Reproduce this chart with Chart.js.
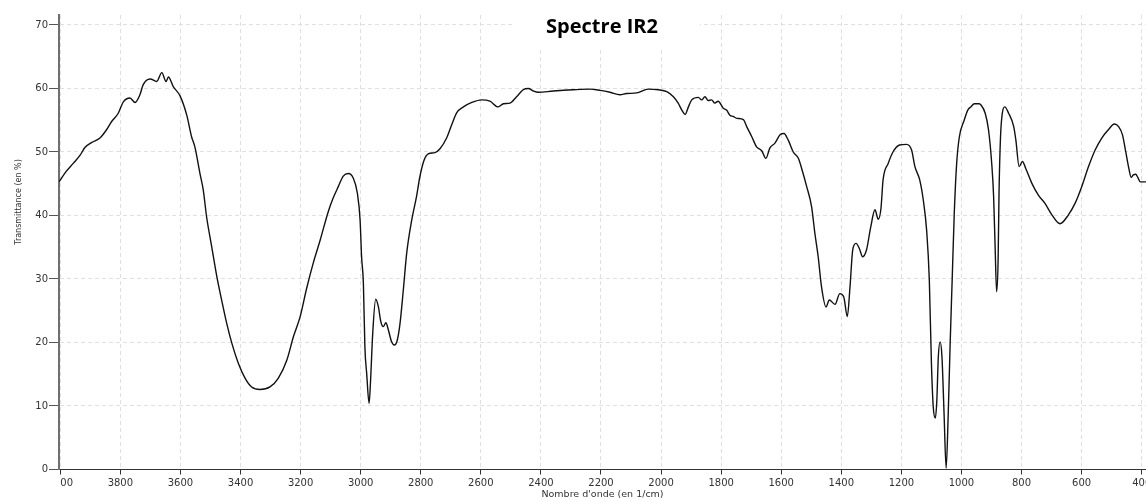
<!DOCTYPE html>
<html>
<head>
<meta charset="utf-8">
<title>Spectre IR2</title>
<script src="https://cdn.jsdelivr.net/npm/chart.js@4.4.1/dist/chart.umd.min.js"></script>
<style>
  html, body { margin: 0; padding: 0; background: #fff; }
  #wrap { width: 1146px; height: 502px; }
</style>
</head>
<body>
<div id="wrap"><canvas id="irChart" width="1146" height="502"></canvas></div>
<script>
// spectrum (wavenumber in 1/cm, transmittance in %)
const wavenumbers = [
  4004, 3981, 3957, 3934, 3918, 3895, 3868, 3846, 3829, 3807, 3790, 3768, 3751, 3735, 3724, 3701,
  3679, 3662, 3648, 3640, 3624, 3601, 3579, 3563, 3552, 3535, 3524, 3513, 3496, 3479, 3463, 3446,
  3429, 3407, 3385, 3363, 3335, 3302, 3274, 3246, 3224, 3202, 3180, 3158, 3135, 3108, 3092, 3075,
  3058, 3041, 3025, 3011, 3002, 2997, 2991, 2986, 2980, 2972, 2967, 2960, 2950, 2941, 2933, 2925,
  2916, 2908, 2897, 2888, 2878, 2869, 2858, 2847, 2830, 2814, 2803, 2789, 2775, 2753, 2736, 2714,
  2697, 2680, 2658, 2630, 2597, 2570, 2542, 2525, 2503, 2481, 2459, 2442, 2425, 2409, 2359, 2292,
  2237, 2203, 2170, 2137, 2115, 2081, 2043, 2009, 1981, 1959, 1943, 1931, 1920, 1909, 1898, 1876,
  1865, 1854, 1843, 1832, 1821, 1810, 1793, 1782, 1771, 1760, 1748, 1726, 1715, 1698, 1682, 1665,
  1651, 1638, 1621, 1604, 1591, 1577, 1560, 1543, 1532, 1515, 1499, 1488, 1477, 1466, 1451, 1440,
  1421, 1405, 1392, 1380, 1371, 1362, 1351, 1340, 1329, 1316, 1302, 1288, 1277, 1268, 1261, 1244,
  1228, 1206, 1183, 1166, 1155, 1139, 1127, 1116, 1107, 1100, 1094, 1087, 1082, 1077, 1071, 1065,
  1058, 1051, 1044, 1038, 1031, 1024, 1016, 1007, 991, 979, 969, 957, 941, 935, 921, 910,
  899, 893, 888, 883, 878, 875, 870, 864, 856, 843, 826, 819, 808, 797, 786, 766,
  744, 722, 699, 672, 644, 622, 600, 577, 555, 533, 511, 491, 477, 464, 453, 444,
  435, 428, 420, 413, 405, 386
];
const transmittance = [
  45.3, 46.9, 48.2, 49.5, 50.7, 51.5, 52.2, 53.5, 54.8, 56.1, 57.9, 58.5, 57.8, 59.0, 60.6, 61.5,
  61.1, 62.5, 61.1, 61.8, 60.3, 58.8, 55.8, 52.4, 50.8, 46.6, 44.0, 39.8, 35.1, 30.4, 26.7, 23.0,
  19.9, 16.7, 14.4, 13.0, 12.6, 13.0, 14.4, 17.2, 20.9, 24.0, 28.5, 32.5, 36.1, 40.6, 42.7, 44.5,
  46.2, 46.6, 45.9, 43.5, 39.3, 33.5, 29.3, 19.3, 15.1, 10.4, 14.1, 21.4, 26.8, 25.6, 23.3, 22.5,
  23.1, 22.0, 20.1, 19.6, 20.4, 23.0, 28.3, 34.0, 39.3, 43.0, 46.1, 48.7, 49.7, 49.9, 50.5, 52.2,
  54.3, 56.2, 57.1, 57.8, 58.2, 58.0, 57.1, 57.6, 57.7, 58.7, 59.8, 60.0, 59.6, 59.4, 59.6, 59.8,
  59.9, 59.7, 59.4, 59.0, 59.2, 59.3, 59.9, 59.8, 59.5, 58.7, 57.7, 56.6, 55.9, 57.1, 58.2, 58.6,
  58.2, 58.7, 58.1, 58.2, 57.7, 58.0, 56.9, 56.6, 55.8, 55.6, 55.3, 55.1, 54.0, 52.4, 50.8, 50.2,
  49.0, 50.6, 51.4, 52.7, 52.9, 51.9, 50.0, 49.0, 47.4, 44.5, 41.4, 37.2, 33.5, 28.8, 25.6, 26.7,
  26.0, 27.7, 27.2, 24.1, 28.8, 34.6, 35.6, 34.8, 33.5, 34.6, 38.2, 40.9, 39.4, 41.1, 45.6, 48.2,
  50.0, 51.1, 51.2, 50.3, 47.7, 45.6, 42.4, 37.7, 29.8, 16.7, 9.9, 8.1, 10.9, 17.8, 20.1, 17.8,
  8.9, 0.2, 8.9, 19.3, 29.8, 40.3, 48.2, 52.4, 55.0, 56.6, 57.1, 57.6, 57.6, 57.4, 56.1, 53.5,
  48.0, 43.0, 35.1, 28.0, 33.0, 43.5, 52.4, 56.1, 57.1, 56.1, 54.0, 51.9, 47.7, 48.5, 47.4, 45.1,
  43.2, 41.9, 40.1, 38.7, 40.1, 41.9, 44.5, 47.7, 50.3, 52.2, 53.5, 54.4, 54.0, 52.7, 50.0, 47.7,
  46.0, 46.4, 46.5, 46.0, 45.3, 45.3
];

const xTicks = [4000, 3800, 3600, 3400, 3200, 3000, 2800, 2600, 2400, 2200, 2000, 1800, 1600, 1400, 1200, 1000, 800, 600, 400];
const yTicks = [0, 10, 20, 30, 40, 50, 60, 70];

const chartTitle = "Spectre IR2";
const xTitle = "Nombre d'onde (en 1/cm)";
const yTitle = "Transmittance (en %)";

const textColor = "#333";
const gridColor = "#e0e0e0";

// titles and x tick labels drawn by hand: the original cuts the "4000" label at the y axis
const overlayText = {
  id: "overlayText",
  afterDraw(chart) {
    const ctx = chart.ctx;
    const xs = chart.scales.x;
    const area = chart.chartArea;

    ctx.save();
    ctx.beginPath();
    ctx.rect(area.left + 1, area.bottom, chart.width - area.left, chart.height - area.bottom);
    ctx.clip();
    ctx.font = '10px "DejaVu Sans"';
    ctx.fillStyle = textColor;
    ctx.textAlign = "center";
    ctx.textBaseline = "middle";
    xTicks.forEach(v => ctx.fillText(String(v), xs.getPixelForValue(v), 483));
    ctx.restore();

    ctx.save();
    ctx.fillStyle = textColor;
    ctx.textAlign = "center";
    ctx.textBaseline = "middle";
    ctx.font = '9.5px "DejaVu Sans"';
    ctx.fillText(xTitle, (area.left + area.right) / 2, 495);

    ctx.translate(19, 202);
    ctx.rotate(-Math.PI / 2);
    ctx.font = '8px "DejaVu Sans"';
    ctx.fillText(yTitle, 0, 0);
    ctx.restore();

    // title sits on a white box over the top grid line
    ctx.save();
    ctx.fillStyle = "#fff";
    ctx.fillRect(512, 0, 188, 50);
    ctx.fillStyle = "#000";
    ctx.font = 'bold 20px "Open Sans"';
    ctx.textAlign = "center";
    ctx.textBaseline = "alphabetic";
    ctx.fillText(chartTitle, 602, 33);
    ctx.restore();
  }
};

const ctx = document.getElementById("irChart").getContext("2d");

new Chart(ctx, {
  type: "line",
  data: {
    datasets: [{
      label: yTitle,
      data: wavenumbers.map((w, i) => ({ x: w, y: transmittance[i] })),
      borderColor: "#111",
      borderWidth: 1.4,
      pointRadius: 0,
      fill: false,
      cubicInterpolationMode: "monotone"
    }]
  },
  options: {
    responsive: false,
    animation: false,
    layout: { padding: { top: 15, left: 0, right: 0, bottom: 0 } },
    plugins: {
      legend: { display: false },
      title: { display: false },
      tooltip: { enabled: false }
    },
    scales: {
      x: {
        type: "linear",
        reverse: true,
        min: 385.7,
        max: 4004.3,
        afterBuildTicks: s => { s.ticks = xTicks.map(v => ({ value: v })); },
        afterFit: s => { s.height = 32.5; s.paddingLeft = 0; s.paddingRight = 0; },
        ticks: { display: false },
        grid: { color: gridColor, tickColor: "#333", tickLength: 5 },
        border: { color: "#333", width: 1, dash: [4, 3] }
      },
      y: {
        min: 0,
        max: 71.57,
        afterBuildTicks: s => { s.ticks = yTicks.map(v => ({ value: v })); },
        afterFit: s => { s.width = 59; s.paddingTop = 0; s.paddingBottom = 0; },
        ticks: { font: { family: "DejaVu Sans", size: 10 }, color: textColor, padding: 1 },
        grid: { color: gridColor, tickColor: "#555", tickLength: 10 },
        border: { color: "#707070", width: 2, dash: [4, 3] }
      }
    }
  },
  plugins: [overlayText]
});
</script>
</body>
</html>
